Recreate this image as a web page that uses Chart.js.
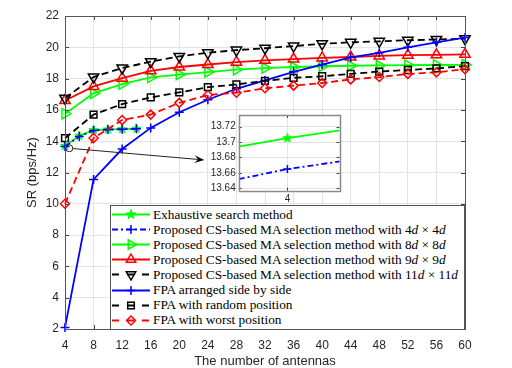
<!DOCTYPE html>
<html>
<head>
<meta charset="utf-8">
<script src="https://cdn.jsdelivr.net/npm/chart.js@4.4.0/dist/chart.umd.min.js"></script>
<style>
  html, body { margin: 0; padding: 0; background: #fff; }
  #wrap { position: relative; width: 512px; height: 368px; overflow: hidden; }
  #mainChart { position: absolute; left: 0; top: 0; }
  #insetChart { position: absolute; left: 200px; top: 106px; }
  #legend {
    position: absolute; left: 110px; top: 205px; width: 355px; height: 125px;
    box-sizing: border-box; border: 1px solid #555; background: #fff;
    padding-top: 1px; font-family: "Liberation Serif", "DejaVu Serif", serif;
    font-size: 13.3px; color: #000;
  }
  .row { display: flex; align-items: center; height: 15.1px; white-space: nowrap; }
  .row svg { flex: none; margin-right: 2px; }
</style>
</head>
<body>
<div id="wrap">
  <canvas id="mainChart" width="512" height="368"></canvas>
  <canvas id="insetChart" width="146" height="100"></canvas>
  <div id="legend"></div>
</div>
<script>
// x values
const antennas = [4, 8, 12, 16, 20, 24, 28, 32, 36, 40, 44, 48, 52, 56, 60];
const antennasSmall = [4, 6, 8, 10, 12, 14];

// series
const exhaustive   = [13.705, 14.35, 14.71, 14.75, 14.77, 14.8];
const proposed4d   = [13.665, 14.3, 14.69, 14.74, 14.76, 14.79];
const proposed8d   = [15.76, 17.06, 17.65, 18.08, 18.26, 18.42, 18.57, 18.67, 18.74, 18.79, 18.82, 18.84, 18.86, 18.87, 18.88];
const proposed9d   = [16.6, 17.5, 18.03, 18.5, 18.74, 18.9, 19.05, 19.17, 19.25, 19.32, 19.38, 19.45, 19.5, 19.52, 19.55];
const proposed11d  = [16.75, 18.1, 18.68, 19.08, 19.42, 19.65, 19.82, 19.94, 20.08, 20.22, 20.32, 20.38, 20.45, 20.5, 20.55];
const fpaSide      = [2.1, 11.56, 13.5, 14.85, 15.85, 16.65, 17.35, 17.88, 18.43, 18.9, 19.35, 19.65, 20.0, 20.32, 20.62];
const fpaRandom    = [14.19, 15.7, 16.37, 16.8, 17.12, 17.45, 17.63, 17.85, 18.05, 18.15, 18.3, 18.45, 18.55, 18.65, 18.8];
const fpaWorst     = [10.0, 14.2, 15.35, 15.7, 16.45, 16.95, 17.1, 17.38, 17.55, 17.72, 17.95, 18.1, 18.3, 18.4, 18.6];

// inset: left edge values of the zoomed window
const insetLeftX = 3.971;
const insetLeftExhaustive = 13.694;
const insetLeftProposed4d = 13.652;

// ticks
const xTicks = { min: 4, max: 60, step: 4 };
const yTicks = { min: 2, max: 22, step: 2 };
const insetY = { min: 13.637, max: 13.735, step: 0.02 };
const insetX = { min: 3.971, max: 4.031 };

// zoom marker + arrow (data coords of main axes)
const zoomMark = { x: 4.6, y: 13.55 };
const arrowEnd = { x: 23.5, y: 12.8 };

const GREEN = '#00ff00', BLUE = '#0000ff', RED = '#ff0000', BLACK = '#000000';

function pts(xs, ys) {
  return ys.map((v, i) => ({ x: xs[i], y: v }));
}

// pentagram marker
function makeStar(color, r) {
  const c = document.createElement('canvas');
  const s = Math.ceil(r * 2 + 2);
  c.width = s; c.height = s;
  const g = c.getContext('2d');
  g.beginPath();
  for (let i = 0; i < 10; i++) {
    const rr = i % 2 === 0 ? r : r * 0.4;
    const a = -Math.PI / 2 + i * Math.PI / 5;
    const px = s / 2 + rr * Math.cos(a), py = s / 2 + rr * Math.sin(a);
    if (i === 0) g.moveTo(px, py); else g.lineTo(px, py);
  }
  g.closePath();
  g.fillStyle = color;
  g.strokeStyle = color;
  g.lineWidth = 1;
  g.fill();
  g.stroke();
  return c;
}
const starImg = makeStar(GREEN, 4.8);

function lineSet(label, data, color, opts) {
  return Object.assign({
    label: label,
    data: data,
    borderColor: color,
    backgroundColor: 'rgba(0,0,0,0)',
    pointBorderColor: color,
    pointBackgroundColor: 'rgba(0,0,0,0)',
    borderWidth: 1.8,
    pointBorderWidth: 1.5,
    tension: 0,
    clip: false
  }, opts);
}

const seriesList = [
  lineSet('Exhaustive search method', pts(antennasSmall, exhaustive), GREEN,
    { pointStyle: starImg, pointRadius: 5 }),
  lineSet('Proposed 4d', pts(antennasSmall, proposed4d), BLUE,
    { borderDash: [6, 3, 2, 3], pointStyle: 'cross', pointRadius: 4.5 }),
  lineSet('Proposed 8d', pts(antennas, proposed8d), GREEN,
    { pointStyle: 'triangle', pointRotation: 90, pointRadius: 6 }),
  lineSet('Proposed 9d', pts(antennas, proposed9d), RED,
    { pointStyle: 'triangle', pointRadius: 6 }),
  lineSet('Proposed 11d', pts(antennas, proposed11d), BLACK,
    { borderDash: [7, 4], pointStyle: 'triangle', pointRotation: 180, pointRadius: 6 }),
  lineSet('FPA side', pts(antennas, fpaSide), BLUE,
    { pointStyle: 'cross', pointRadius: 4.5 }),
  lineSet('FPA random', pts(antennas, fpaRandom), BLACK,
    { borderDash: [7, 4], pointStyle: 'rect', pointRadius: 4.8 }),
  lineSet('FPA worst', pts(antennas, fpaWorst), RED,
    { borderDash: [7, 4], pointStyle: 'rectRot', pointRadius: 4.5 })
];
// later series drawn on top, like the original
seriesList.forEach((d, i) => { d.order = seriesList.length - i; });

// box + inner tick marks
const boxTicks = {
  id: 'boxTicks',
  beforeDraw(chart, args, opts) {
    if (!opts.fill) return;
    const a = chart.chartArea, ctx = chart.ctx;
    ctx.save();
    ctx.fillStyle = opts.fill;
    ctx.fillRect(a.left, a.top, a.right - a.left, a.bottom - a.top);
    ctx.restore();
  },
  afterDraw(chart, args, opts) {
    const { ctx, chartArea: a, scales } = chart;
    const len = opts.len || 4;
    ctx.save();
    ctx.strokeStyle = opts.tickColor || '#444';
    ctx.lineWidth = 1;
    ctx.beginPath();
    scales.x.ticks.forEach(t => {
      const px = Math.round(scales.x.getPixelForValue(t.value)) + 0.5;
      ctx.moveTo(px, a.bottom); ctx.lineTo(px, a.bottom - len);
      ctx.moveTo(px, a.top); ctx.lineTo(px, a.top + len);
    });
    scales.y.ticks.forEach(t => {
      const py = Math.round(scales.y.getPixelForValue(t.value)) + 0.5;
      ctx.moveTo(a.left, py); ctx.lineTo(a.left + len, py);
      ctx.moveTo(a.right, py); ctx.lineTo(a.right - len, py);
    });
    ctx.stroke();
    ctx.strokeStyle = opts.color || '#555';
    ctx.lineWidth = opts.width || 1;
    ctx.strokeRect(Math.round(a.left) + 0.5, Math.round(a.top) + 0.5,
      Math.round(a.right - a.left), Math.round(a.bottom - a.top));
    ctx.restore();
  }
};

const zoomArrow = {
  id: 'zoomArrow',
  afterDraw(chart) {
    const { ctx, scales: { x, y } } = chart;
    const cx = x.getPixelForValue(zoomMark.x), cy = y.getPixelForValue(zoomMark.y);
    const ex = x.getPixelForValue(arrowEnd.x), ey = y.getPixelForValue(arrowEnd.y);
    const r = 3.5;
    const ang = Math.atan2(ey - cy, ex - cx);
    ctx.save();
    ctx.strokeStyle = '#222';
    ctx.fillStyle = '#000';
    ctx.lineWidth = 1;
    ctx.beginPath();
    ctx.arc(cx, cy, r, 0, Math.PI * 2);
    ctx.stroke();
    ctx.beginPath();
    ctx.moveTo(cx + r * Math.cos(ang), cy + r * Math.sin(ang));
    ctx.lineTo(ex - 6 * Math.cos(ang), ey - 6 * Math.sin(ang));
    ctx.stroke();
    // head
    const hl = 10, hw = 3.8;
    const bx = ex - hl * Math.cos(ang), by = ey - hl * Math.sin(ang);
    const nx = -Math.sin(ang), ny = Math.cos(ang);
    ctx.beginPath();
    ctx.moveTo(ex, ey);
    ctx.lineTo(bx + nx * hw, by + ny * hw);
    ctx.lineTo(ex - 6 * Math.cos(ang), ey - 6 * Math.sin(ang));
    ctx.lineTo(bx - nx * hw, by - ny * hw);
    ctx.closePath();
    ctx.fill();
    ctx.restore();
  }
};

const tickFont = { family: 'Liberation Sans, Arial, sans-serif', size: 12 };

new Chart(document.getElementById('mainChart'), {
  type: 'line',
  data: { datasets: seriesList },
  options: {
    responsive: false,
    animation: false,
    devicePixelRatio: 1,
    layout: { padding: { left: 0, top: 16, right: 47, bottom: 0 } },
    plugins: {
      legend: { display: false },
      tooltip: { enabled: false },
      boxTicks: { len: 4, color: '#555', tickColor: '#444' }
    },
    scales: {
      x: {
        type: 'linear',
        min: xTicks.min, max: xTicks.max,
        afterFit(s) { s.height = 39; },
        ticks: { stepSize: xTicks.step, color: '#262626', font: tickFont, padding: 9, maxRotation: 0 },
        grid: { color: '#e3e3e3', drawTicks: false },
        border: { display: false },
        title: {
          display: true, text: 'The number of antennas', color: '#262626',
          font: { family: 'Liberation Sans, Arial, sans-serif', size: 13, lineHeight: 1 },
          padding: { top: 0, bottom: 0 }
        }
      },
      y: {
        min: yTicks.min, max: yTicks.max,
        afterFit(s) { s.width = 65; },
        ticks: { stepSize: yTicks.step, color: '#262626', font: tickFont, padding: 6 },
        grid: { color: '#e3e3e3', drawTicks: false },
        border: { display: false },
        title: {
          display: true, text: 'SR (bps/Hz)', color: '#262626',
          font: { family: 'Liberation Sans, Arial, sans-serif', size: 13 },
          padding: { top: 25, bottom: 0 }
        }
      }
    }
  },
  plugins: [boxTicks, zoomArrow]
});

// inset
const insetSets = [
  lineSet('Exhaustive', [{ x: insetLeftX, y: insetLeftExhaustive }].concat(pts(antennasSmall, exhaustive)), GREEN,
    { pointStyle: starImg, pointRadius: c => (c.raw && c.raw.x === insetLeftX ? 0 : 5), clip: 0 }),
  lineSet('Proposed 4d', [{ x: insetLeftX, y: insetLeftProposed4d }].concat(pts(antennasSmall, proposed4d)), BLUE,
    { borderDash: [6, 3, 2, 3], pointStyle: 'cross', pointRadius: c => (c.raw && c.raw.x === insetLeftX ? 0 : 4), clip: 0 })
];

new Chart(document.getElementById('insetChart'), {
  type: 'line',
  data: { datasets: insetSets },
  options: {
    responsive: false,
    animation: false,
    devicePixelRatio: 1,
    layout: { padding: { left: 0, top: 4.7, right: 4.7, bottom: 0 } },
    plugins: {
      legend: { display: false },
      tooltip: { enabled: false },
      boxTicks: { len: 3, fill: '#fff', color: '#8a8a8a', width: 1.5, tickColor: '#444' }
    },
    scales: {
      x: {
        type: 'linear',
        min: insetX.min, max: insetX.max,
        afterFit(s) { s.height = 15.3; },
        afterBuildTicks(s) { s.ticks = [{ value: 4 }]; },
        ticks: { color: '#262626', font: { family: 'Liberation Sans, Arial, sans-serif', size: 10 }, padding: 3 },
        grid: { color: '#e3e3e3', drawTicks: false },
        border: { display: false }
      },
      y: {
        min: insetY.min, max: insetY.max,
        afterFit(s) { s.width = 38.7; },
        ticks: {
          stepSize: insetY.step, includeBounds: false, color: '#262626',
          font: { family: 'Liberation Sans, Arial, sans-serif', size: 10 }, padding: 3,
          callback: v => String(Number(v.toFixed(2)))
        },
        grid: { color: '#e3e3e3', drawTicks: false },
        border: { display: false }
      }
    }
  },
  plugins: [boxTicks]
});

// legend (HTML so the italic d can be kept)
const legendRows = [
  { text: 'Exhaustive search method', color: GREEN, dash: '', marker: 'star' },
  { text: 'Proposed CS-based MA selection method with 4<i>d</i> &times; 4<i>d</i>', color: BLUE, dash: '6,3,2,3', marker: 'plus' },
  { text: 'Proposed CS-based MA selection method with 8<i>d</i> &times; 8<i>d</i>', color: GREEN, dash: '', marker: 'triRight' },
  { text: 'Proposed CS-based MA selection method with 9<i>d</i> &times; 9<i>d</i>', color: RED, dash: '', marker: 'triUp' },
  { text: 'Proposed CS-based MA selection method with 11<i>d</i> &times; 11<i>d</i>', color: BLACK, dash: '7,8', marker: 'triDown' },
  { text: 'FPA arranged side by side', color: BLUE, dash: '', marker: 'plus' },
  { text: 'FPA with random position', color: BLACK, dash: '7,8', marker: 'square' },
  { text: 'FPA with worst position', color: RED, dash: '7,8', marker: 'diamond' }
];

function markerSvg(type, color, cx, cy) {
  const s = 'stroke="' + color + '" stroke-width="1.5" fill="none"';
  if (type === 'star') {
    let p = [];
    for (let i = 0; i < 10; i++) {
      const rr = i % 2 === 0 ? 5 : 2;
      const a = -Math.PI / 2 + i * Math.PI / 5;
      p.push((cx + rr * Math.cos(a)).toFixed(2) + ',' + (cy + rr * Math.sin(a)).toFixed(2));
    }
    return '<polygon points="' + p.join(' ') + '" fill="' + color + '" stroke="' + color + '" stroke-width="1"/>';
  }
  if (type === 'plus') {
    return '<path d="M' + (cx - 4.5) + ' ' + cy + 'H' + (cx + 4.5) + 'M' + cx + ' ' + (cy - 4.5) + 'V' + (cy + 4.5) + '" ' + s + '/>';
  }
  const tri = rot => {
    const p = [];
    for (let i = 0; i < 3; i++) {
      const a = rot + i * 2 * Math.PI / 3;
      p.push((cx + 5.5 * Math.sin(a)).toFixed(2) + ',' + (cy - 5.5 * Math.cos(a)).toFixed(2));
    }
    return '<polygon points="' + p.join(' ') + '" ' + s + '/>';
  };
  if (type === 'triUp') return tri(0);
  if (type === 'triRight') return tri(Math.PI / 2);
  if (type === 'triDown') return tri(Math.PI);
  if (type === 'square') return '<rect x="' + (cx - 3.3) + '" y="' + (cy - 3.3) + '" width="6.6" height="6.6" ' + s + '/>';
  if (type === 'diamond') return '<polygon points="' + cx + ',' + (cy - 4.5) + ' ' + (cx + 4.5) + ',' + cy + ' ' + cx + ',' + (cy + 4.5) + ' ' + (cx - 4.5) + ',' + cy + '" ' + s + '/>';
  return '';
}

const legendBox = document.getElementById('legend');
legendRows.forEach(r => {
  const row = document.createElement('div');
  row.className = 'row';
  const w = 40, h = 15, cy = 7.5;
  row.innerHTML =
    '<svg width="' + w + '" height="' + h + '">' +
    '<line x1="1" y1="' + cy + '" x2="' + (w - 1) + '" y2="' + cy + '" stroke="' + r.color + '" stroke-width="1.8"' +
    (r.dash ? ' stroke-dasharray="' + r.dash + '"' : '') + '/>' +
    markerSvg(r.marker, r.color, w / 2, cy) +
    '</svg><span>' + r.text + '</span>';
  legendBox.appendChild(row);
});
</script>
</body>
</html>
